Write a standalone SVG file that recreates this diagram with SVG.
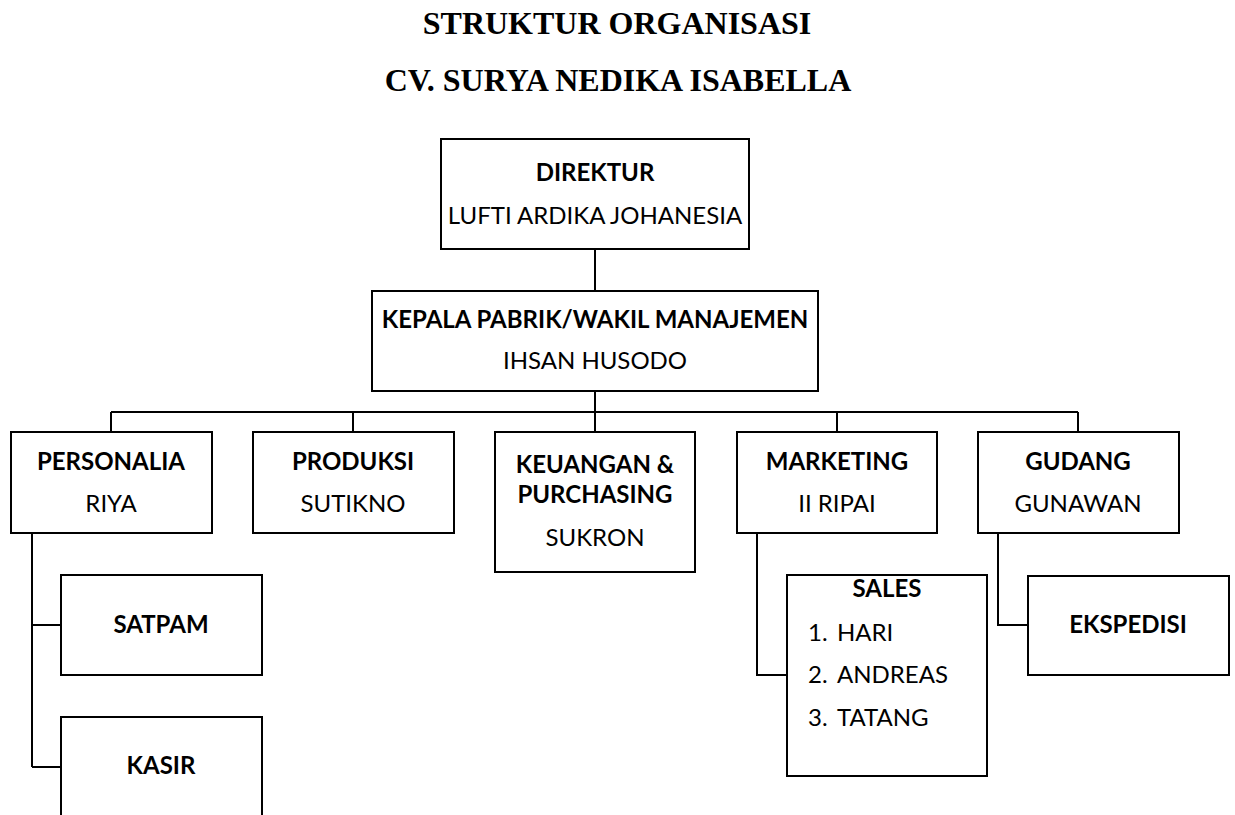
<svg xmlns="http://www.w3.org/2000/svg" width="1235" height="815" viewBox="0 0 1235 815">
<style>
.box{fill:#fff;stroke:#000;stroke-width:2}
.con{fill:none;stroke:#000;stroke-width:2}
.t{font-family:Lato,"Carlito","Liberation Sans",sans-serif;font-size:24px;fill:#000;text-anchor:middle}
.b{font-weight:bold}
.ttl{font-family:"Liberation Serif","Times New Roman",serif;font-size:32px;font-weight:bold;text-anchor:middle;fill:#000}
.l{text-anchor:start}
</style>
<rect width="1235" height="815" fill="#fff"/>
<text class="ttl" x="617" y="34">STRUKTUR ORGANISASI</text>
<text class="ttl" x="618" y="91">CV. SURYA NEDIKA ISABELLA</text>
<g id="connectors">
<path class="con" d="M595 249V291M595 391V412M111 412H1078M111 412V432M353 412V432M595 412V432M837 412V432M1078 412V432"/>
<path class="con" d="M32 533V767M32 625H61M32 767H61"/>
<path class="con" d="M757 533V675H787"/>
<path class="con" d="M998 533V625H1028"/>
</g>
<g id="direktur">
<rect class="box" x="441" y="139" width="308" height="110"/>
<text class="t b" x="595" y="181">DIREKTUR</text>
<text class="t" x="595" y="224">LUFTI ARDIKA JOHANESIA</text>
</g>
<g id="kepala">
<rect class="box" x="372" y="291" width="446" height="100"/>
<text class="t b" x="595" y="328">KEPALA PABRIK/WAKIL MANAJEMEN</text>
<text class="t" x="595" y="369">IHSAN HUSODO</text>
</g>
<g id="personalia">
<rect class="box" x="11" y="432" width="201" height="101"/>
<text class="t b" x="111" y="470">PERSONALIA</text>
<text class="t" x="111" y="512">RIYA</text>
</g>
<g id="produksi">
<rect class="box" x="253" y="432" width="201" height="101"/>
<text class="t b" x="353" y="470">PRODUKSI</text>
<text class="t" x="353" y="512">SUTIKNO</text>
</g>
<g id="keuangan">
<rect class="box" x="495" y="432" width="200" height="140"/>
<text class="t b" x="595" y="473">KEUANGAN &amp;</text>
<text class="t b" x="595" y="503">PURCHASING</text>
<text class="t" x="595" y="546">SUKRON</text>
</g>
<g id="marketing">
<rect class="box" x="737" y="432" width="200" height="101"/>
<text class="t b" x="837" y="470">MARKETING</text>
<text class="t" x="837" y="512">II RIPAI</text>
</g>
<g id="gudang">
<rect class="box" x="978" y="432" width="201" height="101"/>
<text class="t b" x="1078" y="470">GUDANG</text>
<text class="t" x="1078" y="512">GUNAWAN</text>
</g>
<g id="satpam">
<rect class="box" x="61" y="575" width="201" height="100"/>
<text class="t b" x="161" y="633">SATPAM</text>
</g>
<g id="kasir">
<rect class="box" x="61" y="717" width="201" height="120"/>
<text class="t b" x="161" y="774">KASIR</text>
</g>
<g id="sales">
<rect class="box" x="787" y="575" width="200" height="201"/>
<text class="t b" x="887" y="597">SALES</text>
<text class="t l" y="641"><tspan x="808">1.</tspan><tspan x="837">HARI</tspan></text>
<text class="t l" y="683"><tspan x="808">2.</tspan><tspan x="837">ANDREAS</tspan></text>
<text class="t l" y="726"><tspan x="808">3.</tspan><tspan x="837">TATANG</tspan></text>
</g>
<g id="ekspedisi">
<rect class="box" x="1028" y="576" width="201" height="99"/>
<text class="t b" x="1128" y="633">EKSPEDISI</text>
</g>
</svg>
